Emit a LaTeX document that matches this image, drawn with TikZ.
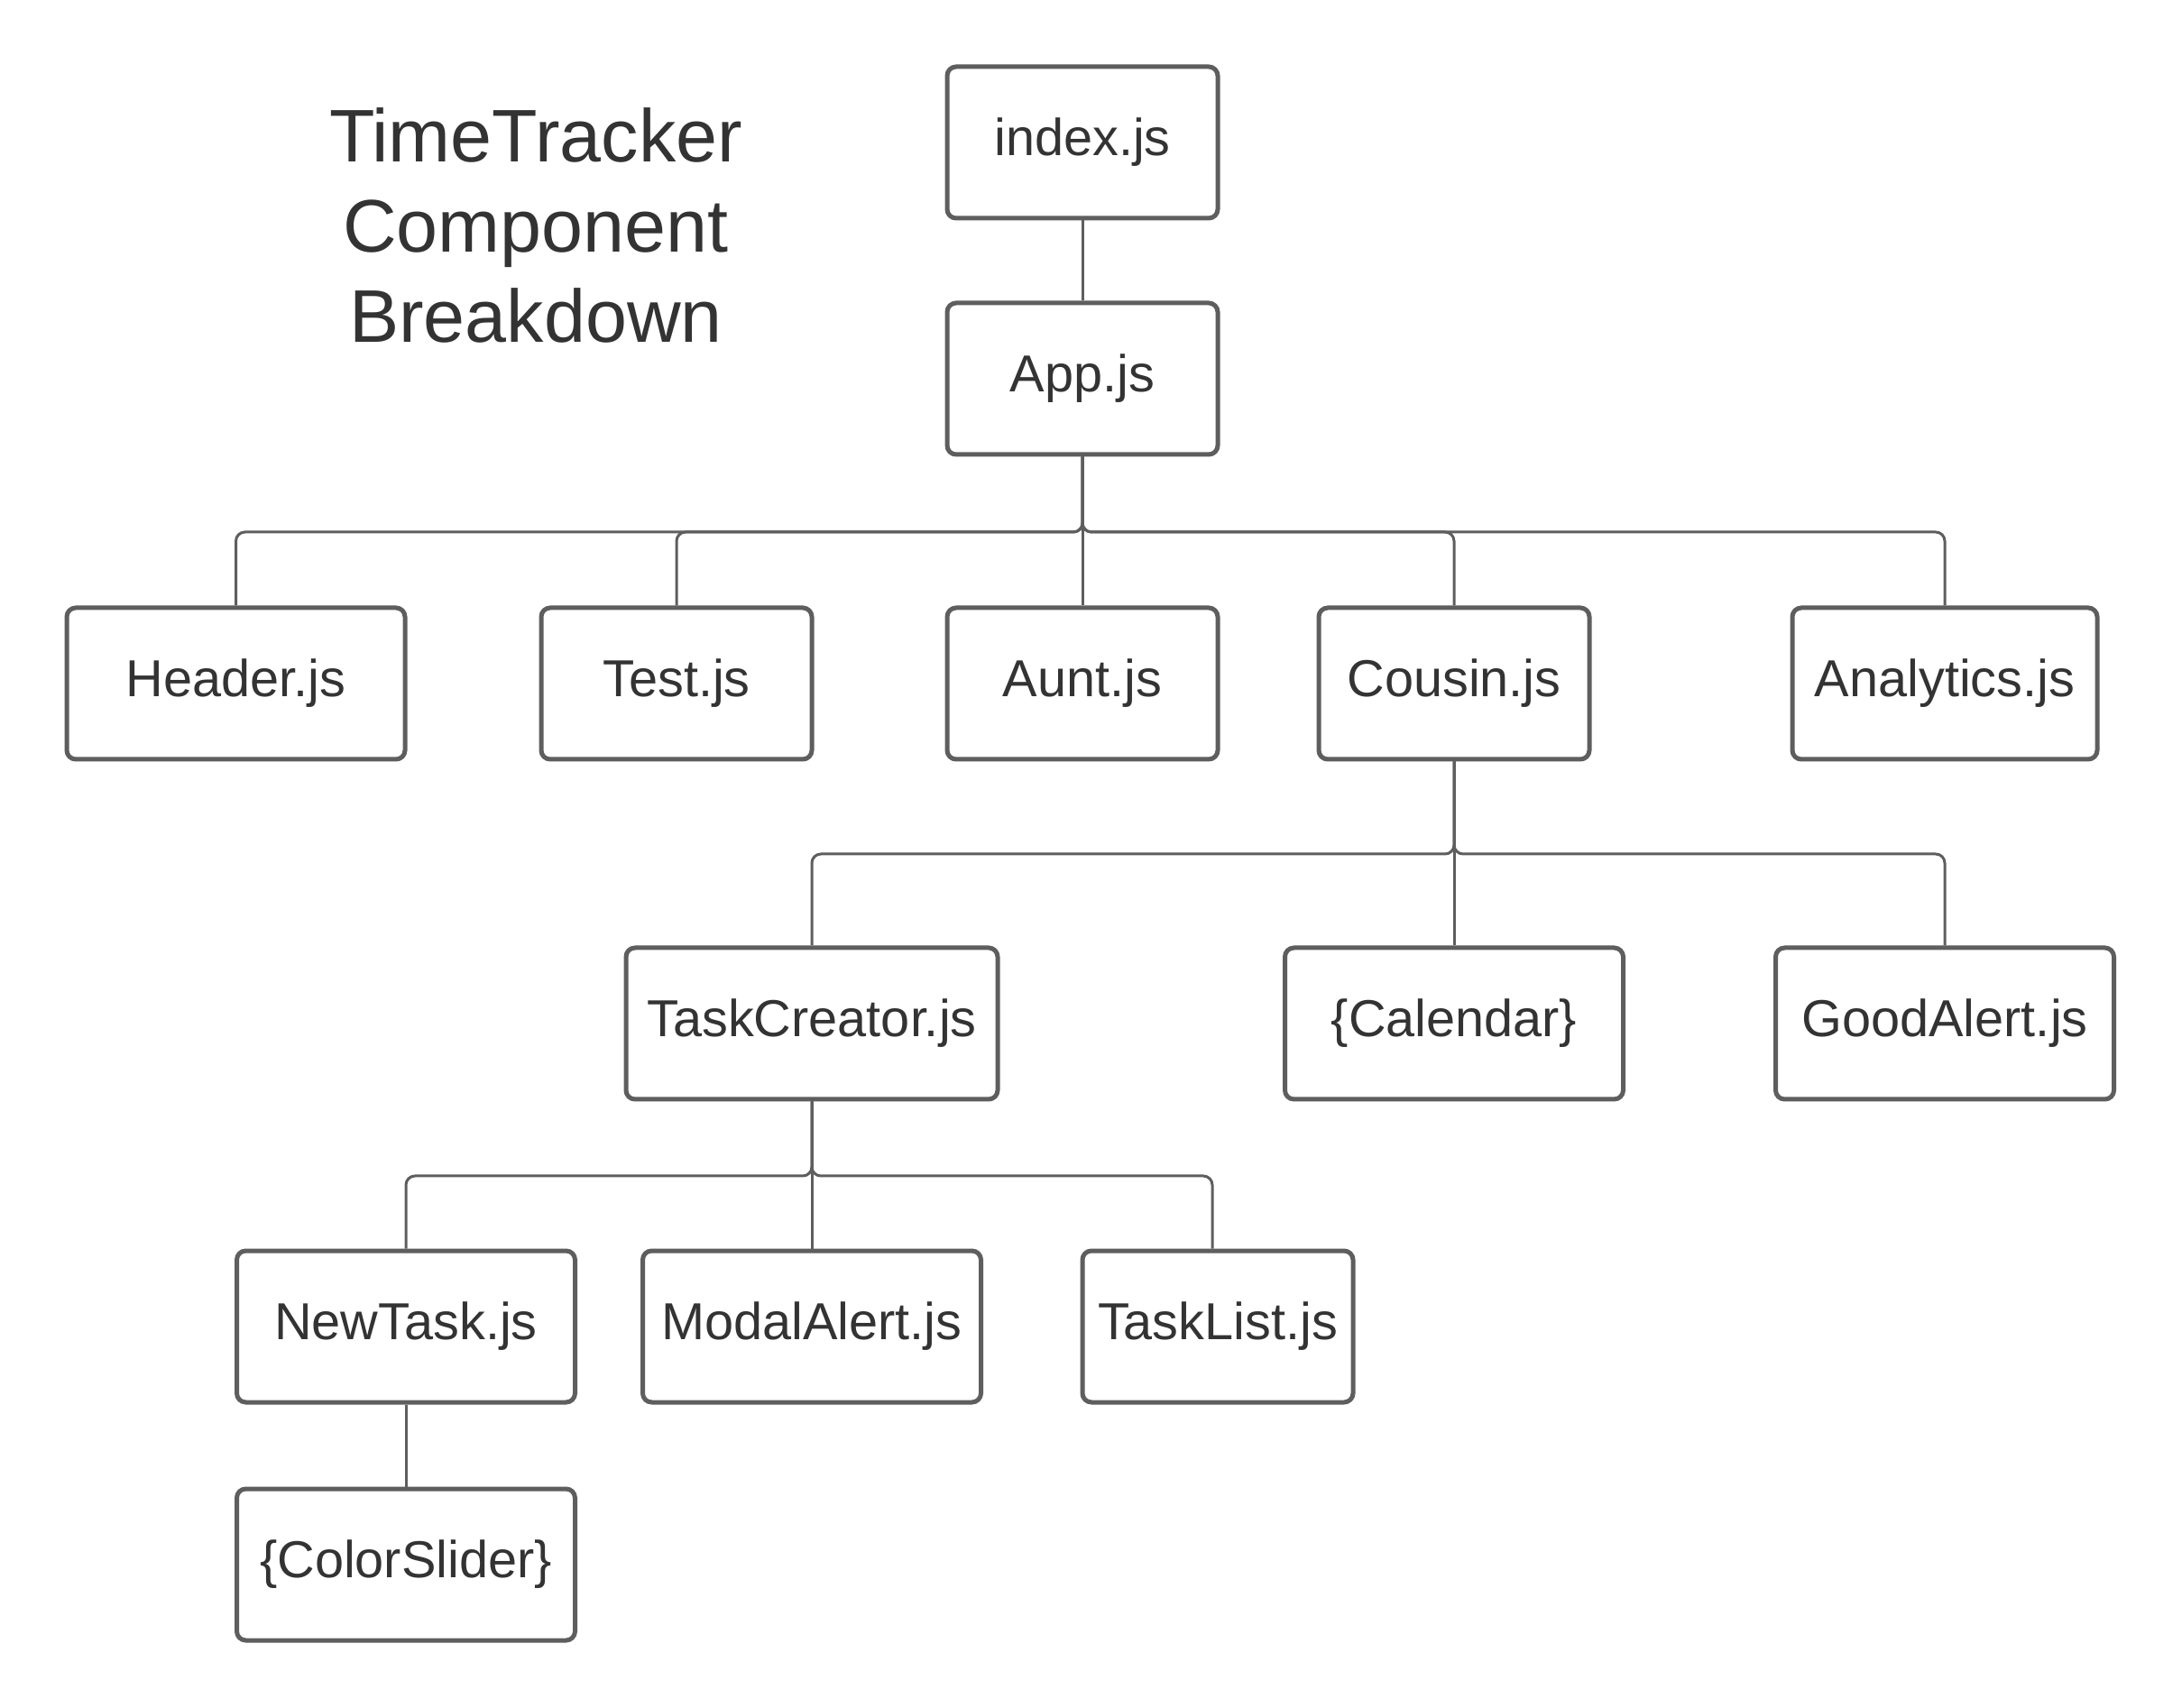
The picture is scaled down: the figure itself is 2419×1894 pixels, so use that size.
\documentclass[tikz,border=0pt]{standalone}
\usepackage{fontspec}
\setmainfont{Liberation Sans}
\definecolor{linec}{HTML}{5E5E5E}
\definecolor{textc}{HTML}{333333}
\begin{document}
\begin{tikzpicture}[x=0.3pt,y=-0.3pt,
  comp/.style={draw=linec, line width=1.5pt, rounded corners=3pt, fill=white,
    minimum height=50.4pt, inner sep=0pt, text=textc, font=\fontsize{17.3}{20}\selectfont},
  link/.style={draw=linec, line width=0.9pt, rounded corners=3pt}]
\useasboundingbox (0,0) rectangle (2419,1894);
\fill[white] (0,0) rectangle (2419,1894);

\node[text=textc, align=center, font=\fontsize{24.8}{30}\selectfont] (title) at (594,250) {TimeTracker\\Component\\Breakdown};

\node[comp, minimum width=90pt] (idx) at (1200,158) {index.js};
\node[comp, minimum width=90pt] (app) at (1200,420) {App.js};

\node[comp, minimum width=112.5pt] (hdr) at (261.5,758) {Header.js};
\node[comp, minimum width=90pt] (tst) at (750,758) {Test.js};
\node[comp, minimum width=90pt] (aunt) at (1200,758) {Aunt.js};
\node[comp, minimum width=90pt] (cous) at (1612,758) {Cousin.js};
\node[comp, minimum width=101.4pt] (ana) at (2156,758) {Analytics.js};

\node[comp, minimum width=123.6pt] (tc) at (900,1135) {TaskCreator.js};
\node[comp, minimum width=112.5pt] (cal) at (1612,1135) {\{Calendar\}};
\node[comp, minimum width=112.5pt] (ga) at (2156,1135) {GoodAlert.js};

\node[comp, minimum width=112.5pt] (nt) at (450,1471) {NewTask.js};
\node[comp, minimum width=112.5pt] (ma) at (900,1471) {ModalAlert.js};
\node[comp, minimum width=90pt] (tl) at (1350,1471) {TaskList.js};

\node[comp, minimum width=112.5pt] (cs) at (450,1735) {\{ColorSlider\}};

% connectors
\draw[link] (idx.south) -- (app.north);
\foreach \c in {hdr,tst,aunt,cous,ana}
  \draw[link] (app.south) |- (\c.north |- 0,590) -- (\c.north);
\foreach \c in {tc,cal,ga}
  \draw[link] (cous.south) |- (\c.north |- 0,947) -- (\c.north);
\foreach \c in {nt,ma}
  \draw[link] (tc.south) |- (\c.north |- 0,1304) -- (\c.north);
\coordinate (tlin) at ([xshift=-1.8pt]tl.north);
\draw[link] (tc.south) |- (tlin |- 0,1304) -- (tlin);
\draw[link] (nt.south) -- (cs.north);
\end{tikzpicture}
\end{document}
